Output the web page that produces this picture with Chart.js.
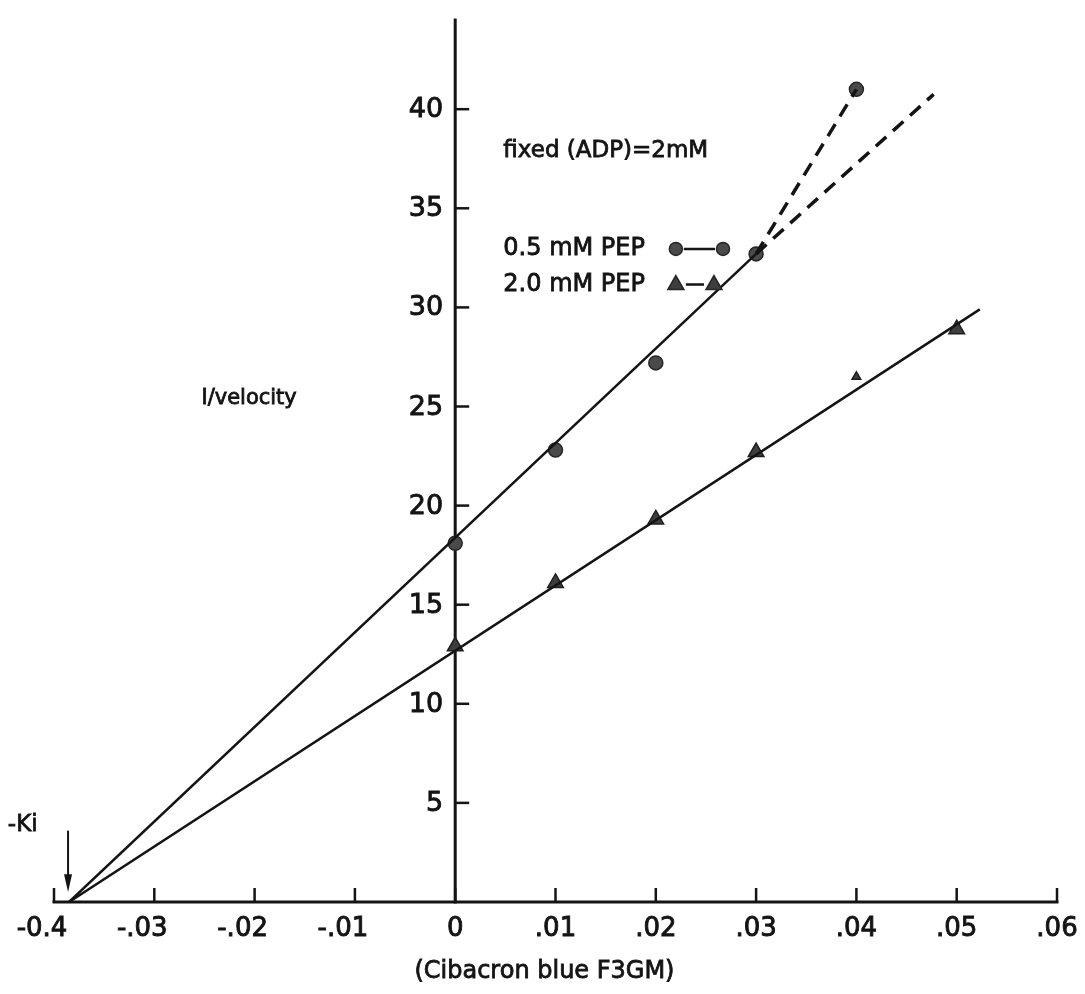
<!DOCTYPE html>
<html>
<head>
<meta charset="utf-8">
<title>Cibacron blue F3GM inhibition</title>
<script src="https://cdn.jsdelivr.net/npm/chart.js@4/dist/chart.umd.min.js"></script>
<style>
    html, body { margin: 0; padding: 0; background: #fff; }
    #wrap { width: 1085px; height: 994px; }
</style>
</head>
<body>
<div id="wrap"><canvas id="plot" width="1085" height="994"></canvas></div>
<script>
    // inhibitor concentration and 1/velocity readings
    const pep05X = [0, 0.01, 0.02, 0.03, 0.04];
    const pep05Y = [18.1, 22.8, 27.2, 32.7, 41.0];
    const pep20X = [0, 0.01, 0.02, 0.03, 0.04, 0.05];
    const pep20Y = [12.9, 16.1, 19.3, 22.7, 26.5, 28.9];
    const pep20Radius = [9, 9, 9, 9, 5, 9];   // the .04 point is a small mark

    // -Ki where both lines meet the x axis, plus line ends
    const negKi = -0.0385;
    const pep20LineEnd = { x: 0.0523, y: 29.9 };
    const pep05DashEnd = { x: 0.0477, y: 40.75 };

    const xTicks = [-0.04, -0.03, -0.02, -0.01, 0, 0.01, 0.02, 0.03, 0.04, 0.05, 0.06];
    const xTickLabels = ['-0.4', '-.03', '-.02', '-.01', '0', '.01', '.02', '.03', '.04', '.05', '.06'];
    const yTicks = [5, 10, 15, 20, 25, 30, 35, 40];
    const yTickLabels = ['5', '10', '15', '20', '25', '30', '35', '40'];

    const ink = '#141414';
    const fontFam = '"DejaVu Sans", "Liberation Sans", sans-serif';

    function pts(xs, ys) {
        return xs.map((x, i) => ({ x, y: ys[i] }));
    }

    // lettering pen is a little heavier than the regular face
    function inkText(ctx, str, x, y) {
        ctx.fillText(str, x, y);
        ctx.strokeText(str, x, y);
    }

    const last05 = pep05X.length - 1;

    const datasets = [
        {   // fitted line, 0.5 mM PEP
            data: [{ x: negKi, y: 0 }, { x: pep05X[3], y: pep05Y[3] }],
            showLine: true, borderColor: ink, borderWidth: 2.5, pointRadius: 0
        },
        {   // fitted line, 2.0 mM PEP
            data: [{ x: negKi, y: 0 }, pep20LineEnd],
            showLine: true, borderColor: ink, borderWidth: 2.5, pointRadius: 0
        },
        {   // dashed continuation up to the last point
            data: [{ x: pep05X[3], y: pep05Y[3] }, { x: pep05X[last05], y: pep05Y[last05] }],
            showLine: true, borderColor: ink, borderWidth: 3.5, borderDash: [14, 9], pointRadius: 0
        },
        {   // dashed extrapolation of the straight line
            data: [{ x: pep05X[3], y: pep05Y[3] }, pep05DashEnd],
            showLine: true, borderColor: ink, borderWidth: 3.5, borderDash: [14, 9], pointRadius: 0
        },
        {
            label: '0.5 mM PEP',
            data: pts(pep05X, pep05Y),
            pointStyle: 'circle', pointRadius: 7,
            backgroundColor: '#4a4a4a', borderColor: '#262626', borderWidth: 1.5
        },
        {
            label: '2.0 mM PEP',
            data: pts(pep20X, pep20Y),
            pointStyle: 'triangle', pointRadius: pep20Radius,
            backgroundColor: '#3e3e3e', borderColor: '#1e1e1e', borderWidth: 1.5
        }
    ];

    // axes, tick marks and notes drawn against the chart scales
    const axesPlugin = {
        id: 'axesPlugin',
        beforeDatasetsDraw(chart) {
            const { ctx, scales: { x, y } } = chart;
            const x0 = x.getPixelForValue(0);
            const y0 = y.getPixelForValue(0);
            ctx.save();
            ctx.strokeStyle = ink;
            ctx.lineWidth = 3;
            ctx.lineCap = 'square';

            // x axis
            ctx.beginPath();
            ctx.moveTo(x.getPixelForValue(x.min), y0);
            ctx.lineTo(x.getPixelForValue(x.max), y0);
            ctx.stroke();

            // y axis
            ctx.beginPath();
            ctx.moveTo(x0, y0);
            ctx.lineTo(x0, y.getPixelForValue(y.max));
            ctx.stroke();

            ctx.lineWidth = 2.5;
            ctx.lineCap = 'butt';
            xTicks.forEach(v => {
                const px = x.getPixelForValue(v);
                ctx.beginPath();
                ctx.moveTo(px, y0);
                ctx.lineTo(px, y0 - 14);
                ctx.stroke();
            });
            yTicks.forEach(v => {
                const py = y.getPixelForValue(v);
                ctx.beginPath();
                ctx.moveTo(x0, py);
                ctx.lineTo(x0 + 14, py);
                ctx.stroke();
            });

            ctx.fillStyle = ink;
            ctx.lineWidth = 0.9;
            ctx.font = '26px ' + fontFam;
            ctx.textAlign = 'center';
            ctx.textBaseline = 'middle';
            xTicks.forEach((v, i) => {
                let px = x.getPixelForValue(v);
                if (v < 0) px -= 12;
                inkText(ctx, xTickLabels[i], px, y0 + 27);
            });

            ctx.font = '27px ' + fontFam;
            ctx.textAlign = 'right';
            yTicks.forEach((v, i) => {
                inkText(ctx, yTickLabels[i], x0 - 12, y.getPixelForValue(v) + 1);
            });
            ctx.restore();
        },
        afterDatasetsDraw(chart) {
            const { ctx, scales: { x, y } } = chart;
            const px = v => x.getPixelForValue(v);
            const py = v => y.getPixelForValue(v);
            ctx.save();
            ctx.fillStyle = ink;
            ctx.strokeStyle = ink;
            ctx.lineWidth = 0.8;
            ctx.textBaseline = 'middle';
            ctx.textAlign = 'left';

            ctx.font = '23px ' + fontFam;
            inkText(ctx, 'fixed (ADP)=2mM', px(0.0048), py(37.9));

            // key
            ctx.font = '24px ' + fontFam;
            inkText(ctx, '0.5 mM PEP', px(0.0048), py(32.95));
            inkText(ctx, '2.0 mM PEP', px(0.0048), py(31.15));

            const k1y = py(32.95), k2y = py(31.15);
            const ka = px(0.0220), kb = px(0.0267), kc = px(0.0258);
            ctx.lineWidth = 2.5;
            ctx.beginPath();
            ctx.moveTo(ka + 8, k1y); ctx.lineTo(kb - 8, k1y);
            ctx.moveTo(ka + 10, k2y); ctx.lineTo(kc - 10, k2y);
            ctx.stroke();

            ctx.lineWidth = 1.5;
            ctx.fillStyle = '#4a4a4a';
            ctx.strokeStyle = '#262626';
            [ka, kb].forEach(cx => {
                ctx.beginPath();
                ctx.arc(cx, k1y, 6.5, 0, Math.PI * 2);
                ctx.fill();
                ctx.stroke();
            });
            ctx.fillStyle = '#3e3e3e';
            [ka, kc].forEach(cx => {
                ctx.beginPath();
                ctx.moveTo(cx, k2y - 9);
                ctx.lineTo(cx + 8, k2y + 5);
                ctx.lineTo(cx - 8, k2y + 5);
                ctx.closePath();
                ctx.fill();
                ctx.stroke();
            });

            // y axis title
            ctx.fillStyle = ink;
            ctx.strokeStyle = ink;
            ctx.lineWidth = 0.8;
            ctx.font = '21px ' + fontFam;
            inkText(ctx, 'I/velocity', px(-0.0253), py(25.4));

            // -Ki marker with arrow
            ctx.font = '23px ' + fontFam;
            inkText(ctx, '-Ki', px(-0.0446), py(3.9));
            const ax = px(negKi) - 1;
            ctx.lineWidth = 2;
            ctx.beginPath();
            ctx.moveTo(ax, py(3.6));
            ctx.lineTo(ax, py(0.8));
            ctx.stroke();
            ctx.beginPath();
            ctx.moveTo(ax, py(0.5));
            ctx.lineTo(ax - 4, py(1.4));
            ctx.lineTo(ax + 4, py(1.4));
            ctx.closePath();
            ctx.fill();

            // x axis title
            ctx.textAlign = 'center';
            ctx.lineWidth = 0.8;
            ctx.font = '24px ' + fontFam;
            inkText(ctx, '(Cibacron blue F3GM)', px(0.0089), py(0) + 70);
            ctx.restore();
        }
    };

    new Chart(document.getElementById('plot').getContext('2d'), {
        type: 'scatter',
        data: { datasets },
        options: {
            responsive: false,
            animation: false,
            layout: { padding: { left: 54, right: 28, top: 20, bottom: 92 } },
            plugins: {
                legend: { display: false },
                tooltip: { enabled: false }
            },
            scales: {
                x: { type: 'linear', min: -0.04, max: 0.06, display: false },
                y: { type: 'linear', min: 0, max: 44.5, display: false }
            }
        },
        plugins: [axesPlugin]
    });
</script>
</body>
</html>
